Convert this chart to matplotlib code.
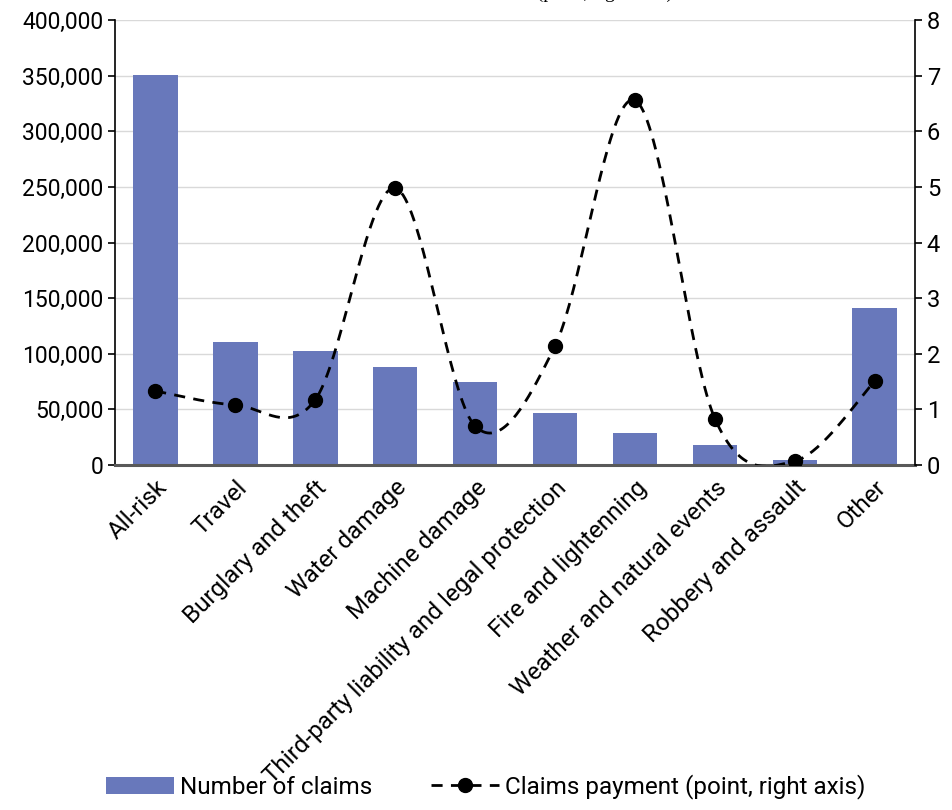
import numpy as np
import matplotlib.pyplot as plt
from matplotlib.ticker import FuncFormatter, MultipleLocator

plt.rcParams['font.family'] = ['Roboto', 'DejaVu Sans']

categories = ['All-risk', 'Travel', 'Burglary and theft', 'Water damage',
              'Machine damage', 'Third-party liability and legal protection',
              'Fire and lightenning', 'Weather and natural events',
              'Robbery and assault', 'Other']
n_claims = [350500, 110500, 102500, 88500, 75000, 46500, 28500, 18000, 4800, 141000]
payment = [1.33, 1.08, 1.17, 4.98, 0.70, 2.14, 6.56, 0.83, 0.07, 1.51]


def smooth(x, y, steps=40):
    # Catmull-Rom style smoothing, like a spreadsheet "smoothed line"
    x = np.asarray(x, float)
    y = np.asarray(y, float)
    px = np.concatenate([[x[0]], x, [x[-1]]])
    py = np.concatenate([[y[0]], y, [y[-1]]])
    xs, ys = [], []
    t = np.linspace(0, 1, steps)
    for i in range(1, len(px) - 2):
        p0 = np.array([px[i], py[i]])
        p3 = np.array([px[i + 1], py[i + 1]])
        p1 = p0 + (np.array([px[i + 1], py[i + 1]]) - np.array([px[i - 1], py[i - 1]])) / 6
        p2 = p3 - (np.array([px[i + 2], py[i + 2]]) - np.array([px[i], py[i]])) / 6
        b = ((1 - t) ** 3)[:, None] * p0 + (3 * (1 - t) ** 2 * t)[:, None] * p1 \
            + (3 * (1 - t) * t ** 2)[:, None] * p2 + (t ** 3)[:, None] * p3
        xs.extend(b[:, 0])
        ys.extend(b[:, 1])
    return np.array(xs), np.array(ys)


fig = plt.figure(figsize=(9.52, 8.1), dpi=100, facecolor='white')
ax = fig.add_axes([0.121, 0.426, 0.84, 0.549])
x = np.arange(len(categories))

bars = ax.bar(x, n_claims, width=0.56, color='#6878bb', label='Number of claims', zorder=2)
ax.set_xlim(-0.5, len(categories) - 0.5)
ax.set_ylim(0, 400000)
ax.yaxis.set_major_locator(MultipleLocator(50000))
ax.yaxis.set_major_formatter(FuncFormatter(lambda v, p: f'{int(v):,}'))
ax.grid(axis='y', color='#d9d9d9', linewidth=1, zorder=0)
ax.set_axisbelow(True)
ax.set_xticks(x)
ax.set_xticklabels(categories, rotation=45, ha='right', rotation_mode='anchor', fontsize=17.5)
ax.tick_params(axis='x', length=0, pad=8)
ax.tick_params(axis='y', labelsize=16.5, length=5, width=1.2, color='black')
for s in ['top', 'right']:
    ax.spines[s].set_visible(False)
ax.spines['left'].set_color('black')
ax.spines['left'].set_linewidth(1.2)
ax.spines['bottom'].set_color('#595959')
ax.spines['bottom'].set_linewidth(2.2)

ax2 = ax.twinx()
ax2.set_ylim(0, 8)
ax2.yaxis.set_major_locator(MultipleLocator(1))
ax2.tick_params(axis='y', labelsize=17, length=5, width=1.2, color='black')
for s in ['top', 'left', 'bottom']:
    ax2.spines[s].set_visible(False)
ax2.spines['right'].set_color('black')
ax2.spines['right'].set_linewidth(1.2)

sx, sy = smooth(x, payment)
ax2.plot(sx, sy, color='black', linestyle=(0, (4, 3)), linewidth=2, zorder=3)
ax2.plot(x, payment, 'o', color='black', markersize=10, zorder=4)
line_handle, = ax2.plot([], [], color='black', linestyle=(0, (4, 3)), linewidth=2,
                        marker='o', markersize=10, label='Claims payment (point, right axis)')

# title sits mostly above the top edge of the canvas
fig.text(0.45, 1.0085, 'Products: Number of claims and total claims (point, right axis)',
         family='Liberation Serif', fontsize=14, ha='center', va='center')

fig.legend(handles=[bars, line_handle], loc='lower center', ncol=2, frameon=False,
           fontsize=17.5, bbox_to_anchor=(0.51, -0.014), handlelength=2.8,
           columnspacing=2.4, handletextpad=0.25)

fig.savefig('out.png', dpi=100, facecolor='white')
